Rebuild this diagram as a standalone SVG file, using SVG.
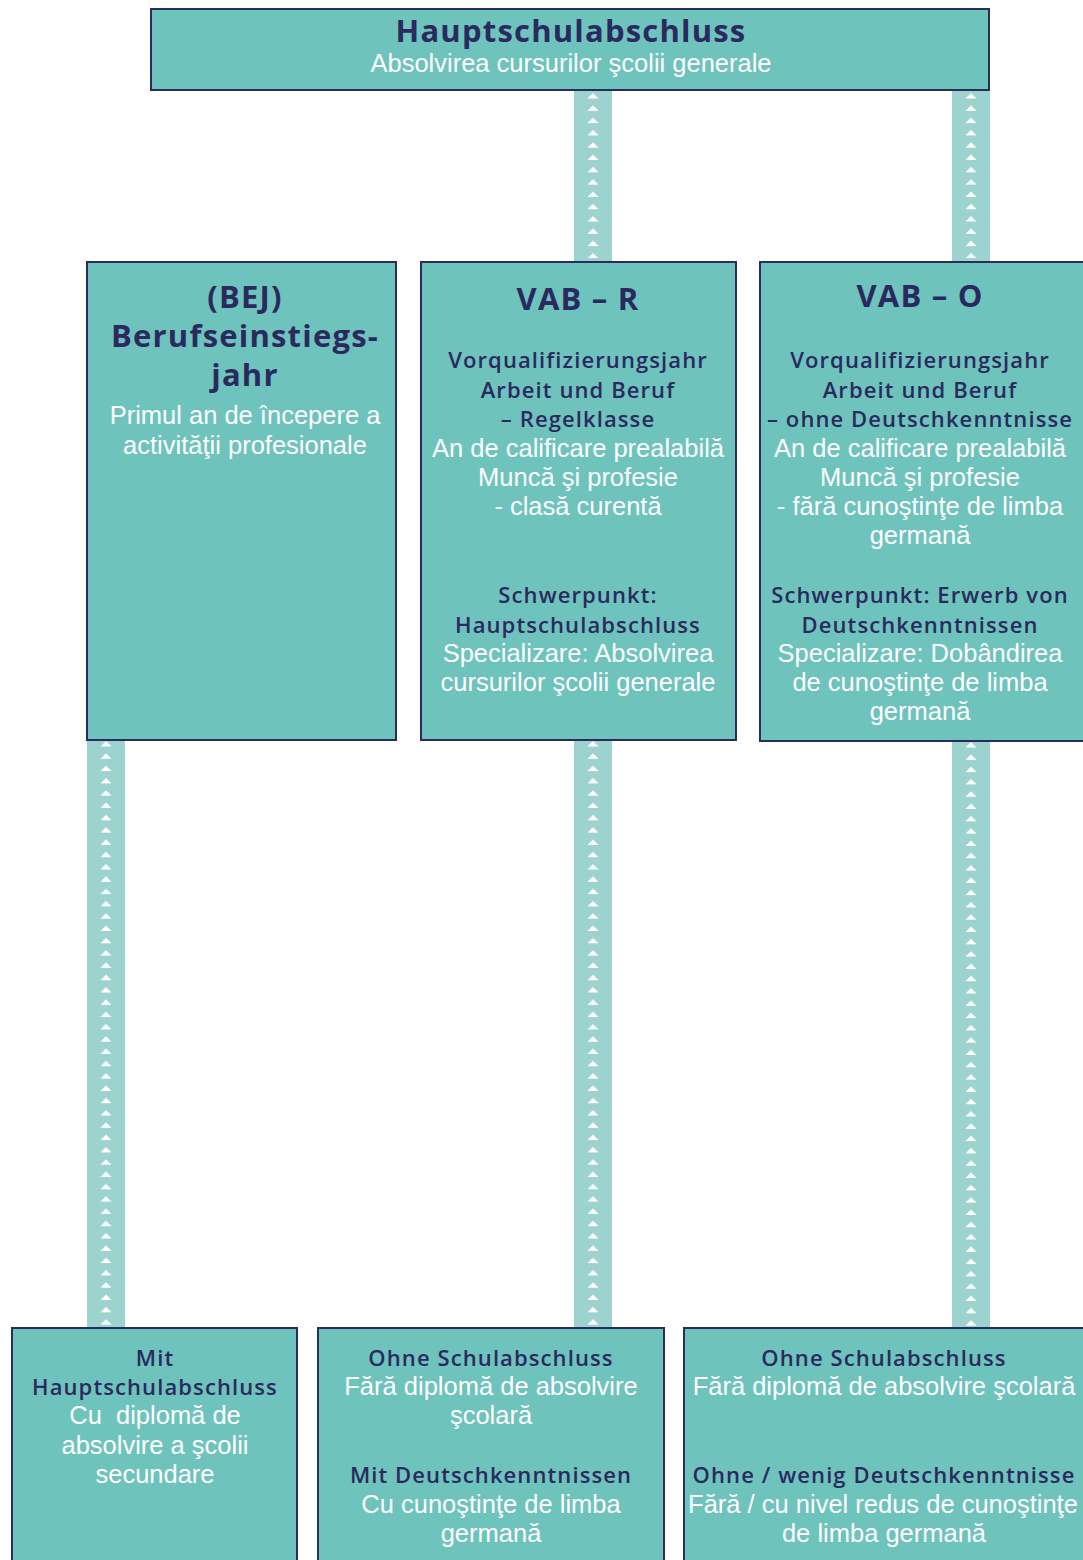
<svg xmlns="http://www.w3.org/2000/svg" width="1083" height="1560" viewBox="0 0 1083 1560">
<style>
.node{fill:#6ec3bd;stroke:#2b2c5e;stroke-width:2}
.bar{fill:#9dd3cf}
.tri{fill:url(#tris)}
.h{font-family:"Open Sans",sans-serif;font-weight:700;fill:#2b2a5f;text-anchor:middle;font-size:31px;letter-spacing:1.2px}
.n{font-family:"Open Sans",sans-serif;font-weight:600;fill:#2b2a5f;text-anchor:middle;font-size:22px;letter-spacing:1.1px}
.w{font-family:"Liberation Sans",Arial,sans-serif;fill:#ffffff;text-anchor:middle;font-size:25.5px}
</style>
<defs>
<pattern id="tris" patternUnits="userSpaceOnUse" x="0" y="0" width="38" height="12.3">
<polygon points="13.5,8.5 24.5,8.5 19,3" fill="#ffffff"/>
</pattern>
</defs>
<rect width="1083" height="1560" fill="#ffffff"/>
<g id="connectors">
<g transform="translate(574,90)"><rect class="bar" width="38" height="172"/><rect class="tri" width="38" height="168"/></g>
<g transform="translate(952,90)"><rect class="bar" width="38" height="172"/><rect class="tri" width="38" height="168"/></g>
<g transform="translate(87,738)"><rect class="bar" width="38" height="590"/><rect class="tri" width="38" height="590"/></g>
<g transform="translate(574,738)"><rect class="bar" width="38" height="590"/><rect class="tri" width="38" height="590"/></g>
<g transform="translate(952,739)"><rect class="bar" width="38" height="589"/><rect class="tri" width="38" height="589"/></g>
</g>
<g id="node-top">
<rect class="node" x="151" y="9" width="838" height="81"/>
<text class="h" x="571" y="42">Hauptschulabschluss</text>
<text class="w" x="571" y="72">Absolvirea cursurilor şcolii generale</text>
</g>
<g id="node-bej">
<rect class="node" x="87" y="262" width="309" height="478"/>
<text class="h" x="245" y="308">(BEJ)</text>
<text class="h" x="245" y="347">Berufseinstiegs-</text>
<text class="h" x="245" y="386">jahr</text>
<text class="w" x="245" y="424">Primul an de începere a</text>
<text class="w" x="245" y="454">activităţii profesionale</text>
</g>
<g id="node-vabr">
<rect class="node" x="421" y="262" width="315" height="478"/>
<text class="h" x="578" y="310">VAB – R</text>
<text class="n" x="578" y="368">Vorqualifizierungsjahr</text>
<text class="n" x="578" y="398">Arbeit und Beruf</text>
<text class="n" x="578" y="427">– Regelklasse</text>
<text class="w" x="578" y="457">An de calificare prealabilă</text>
<text class="w" x="578" y="486">Muncă şi profesie</text>
<text class="w" x="578" y="515">- clasă curentă</text>
<text class="n" x="578" y="603">Schwerpunkt:</text>
<text class="n" x="578" y="633">Hauptschulabschluss</text>
<text class="w" x="578" y="662">Specializare: Absolvirea</text>
<text class="w" x="578" y="691">cursurilor şcolii generale</text>
</g>
<g id="node-vabo">
<rect class="node" x="760" y="262" width="330" height="479"/>
<text class="h" x="920" y="307">VAB – O</text>
<text class="n" x="920" y="368">Vorqualifizierungsjahr</text>
<text class="n" x="920" y="398">Arbeit und Beruf</text>
<text class="n" x="920" y="427">– ohne Deutschkenntnisse</text>
<text class="w" x="920" y="457">An de calificare prealabilă</text>
<text class="w" x="920" y="486">Muncă şi profesie</text>
<text class="w" x="920" y="515">- fără cunoştinţe de limba</text>
<text class="w" x="920" y="544">germană</text>
<text class="n" x="920" y="603">Schwerpunkt: Erwerb von</text>
<text class="n" x="920" y="633">Deutschkenntnissen</text>
<text class="w" x="920" y="662">Specializare: Dobândirea</text>
<text class="w" x="920" y="691">de cunoştinţe de limba</text>
<text class="w" x="920" y="720">germană</text>
</g>
<g id="node-mit">
<rect class="node" x="12" y="1328" width="285" height="240"/>
<text class="n" x="155" y="1366">Mit</text>
<text class="n" x="155" y="1395">Hauptschulabschluss</text>
<text class="w" x="155" y="1424">Cu&#160; diplomă de</text>
<text class="w" x="155" y="1454">absolvire a şcolii</text>
<text class="w" x="155" y="1483">secundare</text>
</g>
<g id="node-ohne1">
<rect class="node" x="318" y="1328" width="346" height="240"/>
<text class="n" x="491" y="1366">Ohne Schulabschluss</text>
<text class="w" x="491" y="1395">Fără diplomă de absolvire</text>
<text class="w" x="491" y="1424">şcolară</text>
<text class="n" x="491" y="1483">Mit Deutschkenntnissen</text>
<text class="w" x="491" y="1513">Cu cunoştinţe de limba</text>
<text class="w" x="491" y="1542">germană</text>
</g>
<g id="node-ohne2">
<rect class="node" x="684" y="1328" width="406" height="240"/>
<text class="n" x="884" y="1366">Ohne Schulabschluss</text>
<text class="w" x="884" y="1395">Fără diplomă de absolvire şcolară</text>
<text class="n" x="884" y="1483">Ohne / wenig Deutschkenntnisse</text>
<text class="w" x="883" y="1513">Fără / cu nivel redus de cunoştinţe</text>
<text class="w" x="884" y="1542">de limba germană</text>
</g>
</svg>
